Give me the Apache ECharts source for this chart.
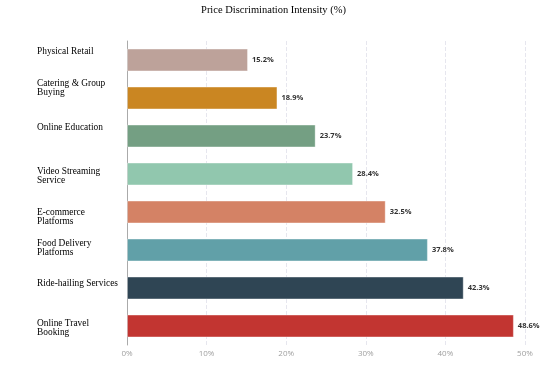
<!DOCTYPE html>
<html><head><meta charset="utf-8">
<script src="https://cdn.jsdelivr.net/npm/echarts@6/dist/echarts.min.js"></script>
<style>html,body{margin:0;padding:0;background:#fff}#c{width:547px;height:373px}</style>
</head><body><div id="c"></div>
<script>
const categories = ["Online Travel\nBooking","Ride-hailing Services","Food Delivery\nPlatforms","E-commerce\nPlatforms","Video Streaming\nService","Online Education","Catering & Group\nBuying","Physical Retail"];
const values = [48.6, 42.3, 37.8, 32.5, 28.4, 23.7, 18.9, 15.2];
const colors = ["#c23531","#2f4554","#61a0a8","#d48265","#91c7ae","#749f83","#ca8622","#bda29a"];
const labelShift = [2, -4, -2, 5, 2, -8, -10, -8];
const ticks = [0, 10, 20, 30, 40, 50];

const rich = { t: { fontFamily: 'Liberation Serif', fontSize: 9.4, lineHeight: 9, color: '#000', align: 'left' } };
labelShift.forEach(s => { const h = Math.abs(s) * 2; rich['g' + h] = { fontSize: 1, lineHeight: h }; });

const chart = echarts.init(document.getElementById('c'));
chart.setOption({
  animation: false,
  title: { text: 'Price Discrimination Intensity (%)', left: 'center', top: 0,
    textStyle: { fontFamily: 'Liberation Serif', fontSize: 10.5, fontWeight: 'normal', color: '#000' } },
  grid: { left: 127, right: 22, top: 41, bottom: 28, containLabel: false, outerBoundsMode: 'none' },
  xAxis: { type: 'value', min: ticks[0], max: ticks[ticks.length-1], interval: 10,
    axisLine: { show: false }, axisTick: { show: false },
    axisLabel: { formatter: '{value}%', color: '#a0a0a0', fontSize: 8, fontFamily: 'Open Sans', margin: 5 },
    splitLine: { show: true, lineStyle: { type: 'dashed', color: '#e6e6ee' } } },
  yAxis: { type: 'category',
    data: categories.map(c => ({ value: c, textStyle: { align: 'left', verticalAlign: 'middle' } })),
    axisLine: { lineStyle: { color: '#aaa' } },
    axisTick: { length: 3, lineStyle: { color: '#aaa' } },
    axisLabel: { align: 'left', margin: 90, rich: rich,
      formatter: (v, i) => {
        const s = labelShift[i], h = Math.abs(s) * 2;
        if (s < 0) return '{t|' + v + '}\n{g' + h + '| }';
        if (s > 0) return '{g' + h + '| }\n{t|' + v + '}';
        return '{t|' + v + '}';
      } } },
  series: [{ type: 'bar', barWidth: '60%',
    data: values.map((v, i) => ({ value: v, itemStyle: { color: colors[i] } })),
    itemStyle: { borderColor: 'rgba(255,255,255,0.35)', borderWidth: 1 },
    label: { show: true, position: 'right', formatter: '{c}%', color: '#333', fontWeight: 'bold',
      fontSize: 7.5, fontFamily: 'Open Sans', distance: 4 } }]
});
</script></body></html>
